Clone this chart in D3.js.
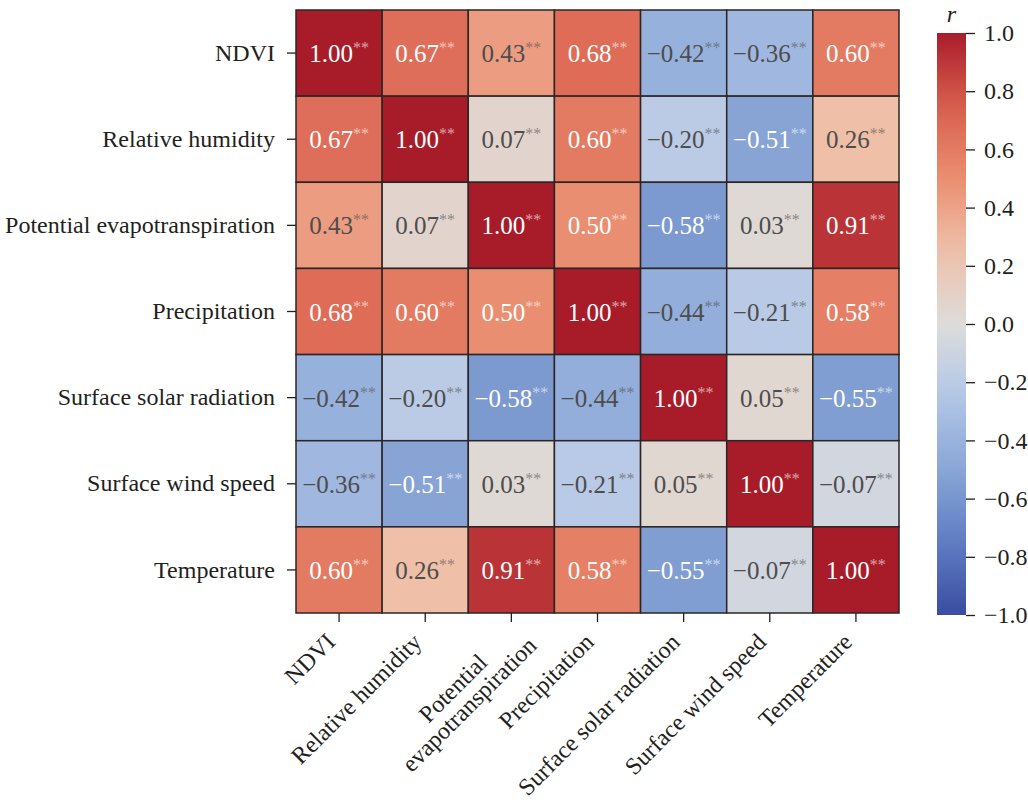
<!DOCTYPE html>
<html>
<head>
<meta charset="utf-8">
<script src="https://cdn.jsdelivr.net/npm/d3@7"></script>
<style>
  body { margin: 0; background: #fff; }
  text { font-family: "Liberation Serif", "Times New Roman", serif; fill: #231f20; }
</style>
</head>
<body>
<div id="chart"></div>
<script>
var variables = ["NDVI", "Relative humidity", "Potential evapotranspiration", "Precipitation",
  "Surface solar radiation", "Surface wind speed", "Temperature"];
var xLabels = [["NDVI"], ["Relative humidity"], ["Potential", "evapotranspiration"], ["Precipitation"],
  ["Surface solar radiation"], ["Surface wind speed"], ["Temperature"]];

var rNDVI = [1.00, 0.67, 0.43, 0.68, -0.42, -0.36, 0.60];
var rHumidity = [0.67, 1.00, 0.07, 0.60, -0.20, -0.51, 0.26];
var rPET = [0.43, 0.07, 1.00, 0.50, -0.58, 0.03, 0.91];
var rPrecip = [0.68, 0.60, 0.50, 1.00, -0.44, -0.21, 0.58];
var rSolar = [-0.42, -0.20, -0.58, -0.44, 1.00, 0.05, -0.55];
var rWind = [-0.36, -0.51, 0.03, -0.21, 0.05, 1.00, -0.07];
var rTemp = [0.60, 0.26, 0.91, 0.58, -0.55, -0.07, 1.00];
var rows = [rNDVI, rHumidity, rPET, rPrecip, rSolar, rWind, rTemp];
var signif = "**";

var cbarTicks = [-1.0, -0.8, -0.6, -0.4, -0.2, 0.0, 0.2, 0.4, 0.6, 0.8, 1.0];

var width = 1028, height = 806;
var grid = {left: 296, top: 10, size: 603};
var cbar = {left: 937, top: 33, width: 29, bottom: 615};

// muted coolwarm, as it looks in the figure
var color = d3.scaleLinear()
  .domain([-1, -0.75, -0.5, -0.25, 0, 0.25, 0.5, 0.75, 1])
  .range(["rgb(58,76,160)", "rgb(95,125,196)", "rgb(137,166,214)", "rgb(178,199,232)",
    "rgb(221,220,219)", "rgb(239,193,170)", "rgb(234,142,113)", "rgb(217,95,77)", "rgb(168,28,42)"])
  .interpolate(d3.interpolateRgb)
  .clamp(true);

function lum(c){
  var rgb = d3.rgb(c);
  var f = v => { v = v / 255; return v <= 0.03928 ? v / 12.92 : Math.pow((v + 0.055) / 1.055, 2.4); };
  return 0.2126 * f(rgb.r) + 0.7152 * f(rgb.g) + 0.0722 * f(rgb.b);
}

function fmt(v){
  return (v < 0 ? "\u2212" : "") + Math.abs(v).toFixed(2);
}

var svg = d3.select("#chart").append("svg")
  .attr("width", width)
  .attr("height", height);

var x = d3.scaleBand().domain(variables).range([grid.left, grid.left + grid.size]);
var y = d3.scaleBand().domain(variables).range([grid.top, grid.top + grid.size]);

var cells = [];
rows.forEach(function(row, i){
  row.forEach(function(v, j){
    cells.push({row: variables[i], col: variables[j], value: v});
  });
});

var cell = svg.append("g").attr("class", "cells")
  .selectAll("g")
  .data(cells)
  .enter()
  .append("g");

cell.append("rect")
  .attr("x", d => x(d.col))
  .attr("y", d => y(d.row))
  .attr("width", x.bandwidth())
  .attr("height", y.bandwidth())
  .attr("fill", d => color(d.value))
  .attr("stroke", "#2b2625")
  .attr("stroke-width", 1.5);

var label = cell.append("text")
  .attr("x", d => x(d.col) + x.bandwidth() / 2)
  .attr("y", d => y(d.row) + y.bandwidth() / 2 + 9)
  .attr("text-anchor", "middle")
  .style("font-size", "25px");

label.each(function(d){
  var c = lum(color(d.value)) > 0.408 ? "#4d4d4d" : "#ffffff";
  var t = d3.select(this);
  t.append("tspan").text(fmt(d.value)).style("fill", c);
  t.append("tspan").text(signif)
    .attr("dy", -9)
    .style("font-size", "16px")
    .style("fill", c)
    .style("fill-opacity", 0.6);
});

// y axis
var yAxis = svg.append("g")
  .attr("transform", "translate(" + grid.left + ",0)")
  .call(d3.axisLeft(y).tickSize(9).tickPadding(12));
yAxis.select(".domain").remove();
yAxis.selectAll(".tick line").attr("stroke", "#231f20").attr("stroke-width", 1.3);
yAxis.selectAll(".tick text")
  .style("font-size", "24px")
  .attr("dy", "0.32em");

// x axis
var xAxis = svg.append("g")
  .attr("transform", "translate(0," + (grid.top + grid.size) + ")")
  .call(d3.axisBottom(x).tickSize(9).tickFormat(""));
xAxis.select(".domain").remove();
xAxis.selectAll(".tick line").attr("stroke", "#231f20").attr("stroke-width", 1.3);

var lineH = 23;
var xl = svg.append("g").attr("class", "xlabels")
  .selectAll("g")
  .data(variables)
  .enter()
  .append("g")
  .attr("transform", d => "translate(" + (x(d) + x.bandwidth() / 2 - 3) + "," + (grid.top + grid.size + 17) + ") rotate(-45)");

xl.each(function(d, i){
  var lines = xLabels[i];
  var g = d3.select(this);
  var n = lines.length;
  var texts = lines.map(function(s, k){
    return g.append("text")
      .attr("text-anchor", "end")
      .attr("y", 10 + k * lineH)
      .style("font-size", "24px")
      .text(s);
  });
  // centre the lines of a multi-line label on each other
  var widths = texts.map(t => t.node().getComputedTextLength());
  var maxW = d3.max(widths);
  var endX = -9 + (n - 1) * 18;
  texts.forEach(function(t, k){
    t.attr("x", endX - (maxW - widths[k]) / 2);
  });
});

// colour bar
var cScale = d3.scaleLinear().domain([-1, 1]).range([cbar.bottom, cbar.top]);
var defs = svg.append("defs");
var grad = defs.append("linearGradient")
  .attr("id", "cbar")
  .attr("x1", "0").attr("y1", "1").attr("x2", "0").attr("y2", "0");
grad.selectAll("stop")
  .data(d3.range(0, 1.0001, 0.05))
  .enter()
  .append("stop")
  .attr("offset", d => d)
  .attr("stop-color", d => color(d * 2 - 1));

svg.append("rect")
  .attr("x", cbar.left)
  .attr("y", cbar.top)
  .attr("width", cbar.width)
  .attr("height", cbar.bottom - cbar.top)
  .attr("fill", "url(#cbar)");

var cAxis = svg.append("g")
  .attr("transform", "translate(" + (cbar.left + cbar.width) + ",0)")
  .call(d3.axisRight(cScale)
    .tickValues(cbarTicks)
    .tickSize(9)
    .tickPadding(9)
    .tickFormat(d => (d < 0 ? "\u2212" : "") + Math.abs(d).toFixed(1)));
cAxis.select(".domain").remove();
cAxis.selectAll(".tick line").attr("stroke", "#231f20").attr("stroke-width", 1.3);
cAxis.selectAll(".tick text").style("font-size", "24px").attr("dy", "0.32em");

svg.append("text")
  .attr("x", cbar.left + cbar.width / 2)
  .attr("y", 22)
  .attr("text-anchor", "middle")
  .style("font-size", "24px")
  .style("font-style", "italic")
  .text("r");
</script>
</body>
</html>
